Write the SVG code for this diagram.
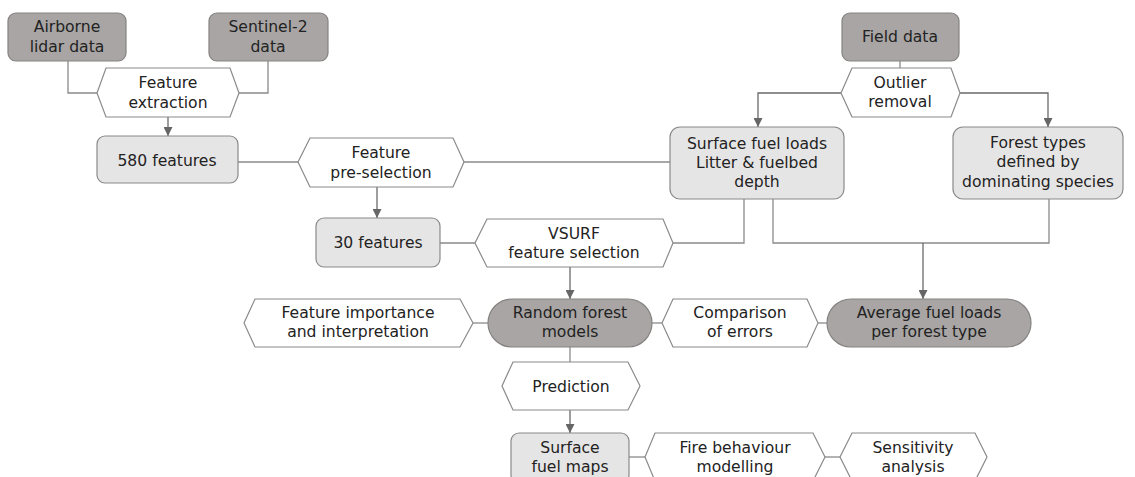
<svg xmlns="http://www.w3.org/2000/svg" width="1135" height="477" viewBox="0 0 1135 477">
<style>
text{font-family:"DejaVu Sans","Noto Sans",sans-serif;font-size:15.6px;fill:#222;text-anchor:middle}
.dark{fill:#a8a5a4;stroke:#858382;stroke-width:1.2}
.light{fill:#e6e5e5;stroke:#8a8a8a;stroke-width:1.2}
.hex{fill:#fff;stroke:#8a8a8a;stroke-width:1.2}
.c{fill:none;stroke:#8a8a8a;stroke-width:1.3}
.a{fill:none;stroke:#6a6a6a;stroke-width:1.3;marker-end:url(#ah)}
</style>
<defs>
<marker id="ah" viewBox="0 0 10 10" refX="10" refY="5" markerWidth="9" markerHeight="9" markerUnits="userSpaceOnUse" orient="auto">
<path d="M0,0 L10,5 L0,10 z" fill="#666"/>
</marker>
</defs>
<rect width="1135" height="477" fill="#fff"/>
<g id="connectors">
<path class="c" d="M68,61 V93 H97"/>
<path class="c" d="M268,61 V93 H239"/>
<path class="a" d="M168,117 V136"/>
<path class="c" d="M238,162 H298"/>
<path class="c" d="M464,162 H670"/>
<path class="a" d="M377,187 V218"/>
<path class="c" d="M900,61 V68"/>
<path class="a" d="M841,93 H758 V127"/>
<path class="a" d="M960,93 H1048 V127"/>
<path class="c" d="M440,243 H475"/>
<path class="c" d="M673,243 H744 V199"/>
<path class="c" d="M773,199 V243 H1049 V199"/>
<path class="a" d="M923,243 V299"/>
<path class="a" d="M570,267 V299"/>
<path class="c" d="M473,323 H488"/>
<path class="c" d="M652,323 H662"/>
<path class="c" d="M818,323 H827"/>
<path class="c" d="M570,347 V362"/>
<path class="a" d="M570,410 V433"/>
<path class="c" d="M629,457 H645"/>
<path class="c" d="M825,457 H840"/>
</g>
<g id="airborne">
<rect class="dark" x="8" y="13" width="118" height="48" rx="8"/>
<text x="67" y="32">Airborne</text><text x="67" y="52">lidar data</text>
</g>
<g id="sentinel">
<rect class="dark" x="209" y="13" width="119" height="48" rx="8"/>
<text x="268" y="32">Sentinel-2</text><text x="268" y="52">data</text>
</g>
<g id="feature-extraction">
<polygon class="hex" points="106,68 230,68 239,93 230,117 106,117 97,93"/>
<text x="168" y="88">Feature</text><text x="168" y="108">extraction</text>
</g>
<g id="f580">
<rect class="light" x="97" y="136" width="141" height="47" rx="8"/>
<text x="167" y="166">580 features</text>
</g>
<g id="pre-selection">
<polygon class="hex" points="310,138 453,138 464,162 453,187 310,187 298,162"/>
<text x="381" y="158">Feature</text><text x="381" y="178">pre-selection</text>
</g>
<g id="field-data">
<rect class="dark" x="842" y="13" width="117" height="48" rx="8"/>
<text x="900" y="42">Field data</text>
</g>
<g id="outlier">
<polygon class="hex" points="852,68 951,68 960,93 951,117 852,117 841,93"/>
<text x="900" y="88">Outlier</text><text x="900" y="107">removal</text>
</g>
<g id="surface-fuel-loads">
<rect class="light" x="670" y="127" width="174" height="72" rx="10"/>
<text x="757" y="149">Surface fuel loads</text><text x="757" y="168">Litter &amp; fuelbed</text><text x="757" y="187">depth</text>
</g>
<g id="forest-types">
<rect class="light" x="953" y="127" width="170" height="72" rx="10"/>
<text x="1038" y="148">Forest types</text><text x="1038" y="167">defined by</text><text x="1038" y="187">dominating species</text>
</g>
<g id="f30">
<rect class="light" x="316" y="218" width="124" height="49" rx="8"/>
<text x="378" y="248">30 features</text>
</g>
<g id="vsurf">
<polygon class="hex" points="487,219 663,219 673,243 663,267 487,267 475,243"/>
<text x="574" y="239">VSURF</text><text x="574" y="258">feature selection</text>
</g>
<g id="importance">
<polygon class="hex" points="255,299 460,299 473,323 460,347 255,347 244,323"/>
<text x="358" y="318">Feature importance</text><text x="358" y="337">and interpretation</text>
</g>
<g id="random-forest">
<rect class="dark" x="488" y="299" width="164" height="48" rx="24"/>
<text x="570" y="318">Random forest</text><text x="570" y="337">models</text>
</g>
<g id="comparison">
<polygon class="hex" points="673,299 807,299 818,323 807,347 673,347 662,323"/>
<text x="740" y="318">Comparison</text><text x="740" y="337">of errors</text>
</g>
<g id="average">
<rect class="dark" x="827" y="299" width="204" height="48" rx="24"/>
<text x="929" y="318">Average fuel loads</text><text x="929" y="337">per forest type</text>
</g>
<g id="prediction">
<polygon class="hex" points="513,362 628,362 640,386 628,410 513,410 502,386"/>
<text x="571" y="392">Prediction</text>
</g>
<g id="fuel-maps">
<rect class="light" x="511" y="433" width="118" height="50" rx="8"/>
<text x="570" y="453">Surface</text><text x="570" y="472">fuel maps</text>
</g>
<g id="fire-behaviour">
<polygon class="hex" points="655,433 813,433 825,457 813,481 655,481 645,457"/>
<text x="735" y="453">Fire behaviour</text><text x="735" y="472">modelling</text>
</g>
<g id="sensitivity">
<polygon class="hex" points="852,433 975,433 987,457 975,481 852,481 840,457"/>
<text x="913" y="453">Sensitivity</text><text x="913" y="472">analysis</text>
</g>
</svg>
